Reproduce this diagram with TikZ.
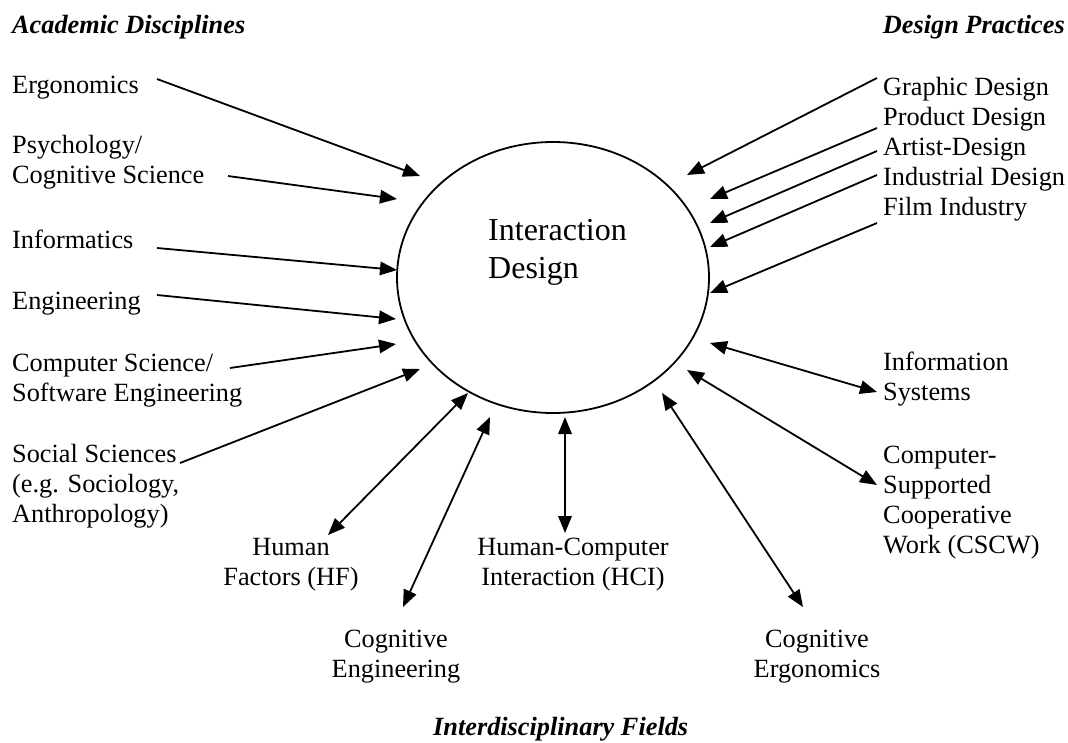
\documentclass[tikz,border=0pt]{standalone}
\usepackage{fontspec}
\setmainfont{Liberation Serif}
\usetikzlibrary{arrows.meta,shapes.geometric}
\begin{document}
\begin{tikzpicture}[x=1pt,y=-1pt,
  txt/.style={inner sep=0pt, font=\fontsize{26.3}{30}\selectfont},
  lbl/.style={txt, align=left, anchor=base west},
  lblc/.style={txt, align=center, anchor=base},
  heading/.style={inner sep=0pt, font=\fontsize{26.3}{30}\selectfont\bfseries\itshape},
  conn/.style={line width=1.8pt, -{Triangle[length=17pt,width=13.5pt]}},
  biconn/.style={line width=1.8pt, {Triangle[length=17pt,width=13.5pt]}-{Triangle[length=17pt,width=13.5pt]}}]
% canvas
\path[fill=white,use as bounding box] (0,0) rectangle (1068,742);

% headings
\node[heading, anchor=base west] (hacad) at (12,33) {Academic Disciplines};
\node[heading, anchor=base east] (hdes) at (1065,33) {Design Practices};
\node[heading, anchor=base west] (hinter) at (433,735) {Interdisciplinary Fields};

% central oval (multi-line labels are placed by the baseline of their last line)
\node[draw, ellipse, line width=1.8pt, minimum width=312pt, minimum height=271pt, inner sep=0pt] (id) at (553,277.5) {};
\node[inner sep=0pt, anchor=base west, align=left, font=\fontsize{32}{38}\selectfont] (idtext) at (488,278) {Interaction\\Design};

% academic disciplines
\node[lbl] (ergo) at (12,93) {Ergonomics};
\node[lbl] (psy) at (12,183) {Psychology/\\Cognitive Science};
\node[lbl] (info) at (12,248) {Informatics};
\node[lbl] (eng) at (12,309) {Engineering};
\node[lbl] (cs) at (12,401) {Computer Science/\\Software Engineering};
\node[lbl] (soc) at (12,522) {Social Sciences\\(e.g. Sociology,\\Anthropology)};

% design practices
\node[lbl] (gd) at (883,95) {Graphic Design};
\node[lbl] (pd) at (883,125) {Product Design};
\node[lbl] (ad) at (883,155) {Artist-Design};
\node[lbl] (ind) at (883,185) {Industrial Design};
\node[lbl] (film) at (883,215) {Film Industry};

% interdisciplinary fields
\node[lbl] (is) at (883,400) {Information\\Systems};
\node[lbl] (cscw) at (883,553) {Computer-\\Supported\\Cooperative\\Work (CSCW)};
\node[lblc] (hf) at (291,585) {Human\\Factors (HF)};
\node[lblc] (ce) at (396,677) {Cognitive\\Engineering};
\node[lblc] (hci) at (573,585) {Human-Computer\\Interaction (HCI)};
\node[lblc] (cerg) at (817,677) {Cognitive\\Ergonomics};

% connector ends
\coordinate (ergoA) at (157,79);   \coordinate (ergoB) at (420,176);
\coordinate (psyA) at (228,176);   \coordinate (psyB) at (397,199);
\coordinate (infoA) at (157,248);  \coordinate (infoB) at (397,270);
\coordinate (engA) at (157,295);   \coordinate (engB) at (396,319);
\coordinate (csA) at (230,368);    \coordinate (csB) at (396,344);
\coordinate (socA) at (180,463);   \coordinate (socB) at (420,369);

\coordinate (gdA) at (877,78);     \coordinate (gdB) at (687,175);
\coordinate (pdA) at (877,128);    \coordinate (pdB) at (710,199);
\coordinate (adA) at (877,151);    \coordinate (adB) at (710,223);
\coordinate (indA) at (877,175);   \coordinate (indB) at (710,247);
\coordinate (filmA) at (877,223);  \coordinate (filmB) at (710,293);

\coordinate (isA) at (710,343);    \coordinate (isB) at (877,392);
\coordinate (cscwA) at (687,370);  \coordinate (cscwB) at (877,485);
\coordinate (hfA) at (468,393);    \coordinate (hfB) at (328,535);
\coordinate (ceA) at (490,417);    \coordinate (ceB) at (403,607);
\coordinate (hciA) at (565,417);   \coordinate (hciB) at (565,533);
\coordinate (cergA) at (662,393);  \coordinate (cergB) at (803,607);

% one-way links into the oval
\foreach \n in {ergo,psy,info,eng,cs,soc,gd,pd,ad,ind,film}
  \draw[conn] (\n A) -- (\n B);
% two-way links
\foreach \n in {is,cscw,hf,ce,hci,cerg}
  \draw[biconn] (\n A) -- (\n B);
\end{tikzpicture}
\end{document}
